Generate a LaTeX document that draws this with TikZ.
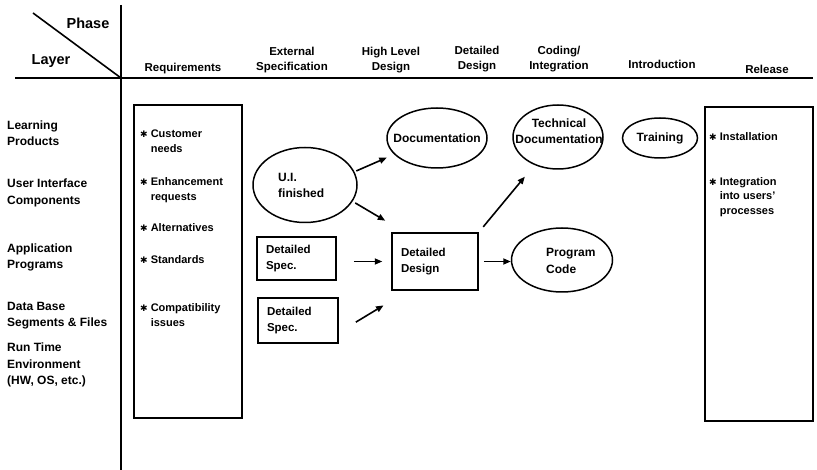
\documentclass[tikz,border=0pt]{standalone}
\usepackage{fontspec}
\setmainfont{Liberation Sans}
\newfontfamily\symfont{DejaVu Sans}
\usetikzlibrary{arrows.meta,shapes.geometric,calc}
\newcommand{\itembul}{{\symfont\bfseries\fontsize{9}{9}\selectfont ✱}}
\begin{document}
\begin{tikzpicture}[x=1pt,y=-1pt,
  lbl/.style={font=\bfseries\fontsize{12}{16.5}\selectfont, inner sep=0pt, align=left},
  hdr/.style={font=\bfseries\fontsize{11.5}{15.5}\selectfont, inner sep=0pt, align=center},
  itm/.style={font=\bfseries\fontsize{11}{15.5}\selectfont, inner sep=0pt, align=left, anchor=west},
  corner/.style={font=\bfseries\fontsize{14.5}{16}\selectfont, inner sep=0pt},
  bigbox/.style={draw, line width=1.5pt, rectangle, inner sep=0pt},
  ell/.style={draw, ellipse, line width=1.5pt, inner sep=0pt},
  boxn/.style={draw, rectangle, line width=1.5pt, inner xsep=9pt, inner ysep=0pt, align=left,
    font=\bfseries\fontsize{11.5}{16.5}\selectfont},
  arr/.style={line width=1.6pt, -{Triangle[length=7.5pt,width=6pt]}},
  axis/.style={line width=1.8pt}
]
\useasboundingbox (0,0) rectangle (817,470);
% axes
\draw[axis] (121,5) -- (121,470);
\draw[axis] (15,78) -- (813,78);
\draw[line width=1.6pt] (33,13) -- (121,78);
\node[corner] (phase) at (88,23) {Phase};
\node[corner] (layer) at (51,61) {Layer};
% headers
\node[hdr] (h1) at (183,69) {Requirements};
\node[hdr] (h2) at (292,60) {External\\Specification};
\node[hdr] (h3) at (391,60) {High Level\\Design};
\node[hdr] (h4) at (477,59) {Detailed\\Design};
\node[hdr] (h5) at (559,59) {Coding/\\Integration};
\node[hdr] (h6) at (662,64) {Introduction};
\node[hdr] (h7) at (767,69) {Release};
% row labels
\node[lbl, anchor=west] (l1) at (7,133) {Learning\\Products};
\node[lbl, anchor=west] (l2) at (7,193) {User Interface\\Components};
\node[lbl, anchor=west] (l3) at (7,257.5) {Application\\Programs};
\node[lbl, anchor=west] (l4) at (7,315.5) {Data Base\\Segments \& Files};
\node[lbl, anchor=west] (l5) at (7,365) {Run Time\\Environment\\(HW, OS, etc.)};
% requirements box
\node[bigbox, minimum width=108pt, minimum height=313pt] (req) at (188,261.5) {};
\node[itm] (r1) at (140,141) {\itembul\ Customer\\\phantom{\itembul\ }needs};
\node[itm] (r2) at (140,190) {\itembul\ Enhancement\\\phantom{\itembul\ }requests};
\node[itm] (r3) at (140,228) {\itembul\ Alternatives};
\node[itm] (r4) at (140,260) {\itembul\ Standards};
\node[itm] (r5) at (140,315) {\itembul\ Compatibility\\\phantom{\itembul\ }issues};
% release box
\node[bigbox, minimum width=108pt, minimum height=314pt] (rel) at (759,264) {};
\node[itm] (s1) at (709,137) {\itembul\ Installation};
\node[itm, font=\bfseries\fontsize{11}{14.5}\selectfont] (s2) at (709,197) {\itembul\ Integration\\\phantom{\itembul\ }into users'\\\phantom{\itembul\ }processes};
% ellipses
\node[ell, minimum width=104pt, minimum height=75pt] (ui) at (305,185) {};
\node[lbl, anchor=west] (uit) at (278,185.5) {U.I.\\finished};
\node[ell, minimum width=100pt, minimum height=60pt] (doc) at (437,138) {};
\node[lbl] (doct) at (doc) {Documentation};
\node[ell, minimum width=90pt, minimum height=64pt] (tdoc) at (558,137) {};
\node[lbl, align=center] (tdoct) at (559,131) {Technical\\Documentation};
\node[ell, minimum width=75pt, minimum height=40pt] (trn) at (660,138) {};
\node[lbl] (trnt) at (trn) {Training};
\node[ell, minimum width=101pt, minimum height=64pt] (code) at (562,260) {};
\node[lbl, anchor=west] (codet) at (546,261) {Program\\Code};
% boxes
\node[boxn, text width=61pt, minimum height=43pt] (spec1) at (296.5,258.5) {Detailed\\Spec.};
\node[boxn, text width=62pt, minimum height=45pt] (spec2) at (298,320.5) {Detailed\\Spec.};
\node[boxn, text width=68pt, minimum height=57pt] (dd) at (435,261.5) {Detailed\\Design};
% arrows
\draw[arr, shorten <=2pt, shorten >=8pt] (ui.15) -- (doc.201);
\draw[arr, shorten <=3pt, shorten >=7pt] (ui.-19) -- ([yshift=8pt]dd.north west);
\draw[arr, shorten <=17pt, shorten >=9pt] (dd.west -| spec1.east) -- (dd.west);
\draw[arr, shorten <=20pt, shorten >=9pt] ([yshift=-12pt]spec2.east) -- ([yshift=-10pt]dd.south west);
\draw[arr, shorten <=7pt, shorten >=15pt] (dd.north east) -- (tdoc.230);
\draw[arr, shorten <=5pt, shorten >=0pt] (dd.east) -- (dd.east -| code.west);
\end{tikzpicture}
\end{document}
